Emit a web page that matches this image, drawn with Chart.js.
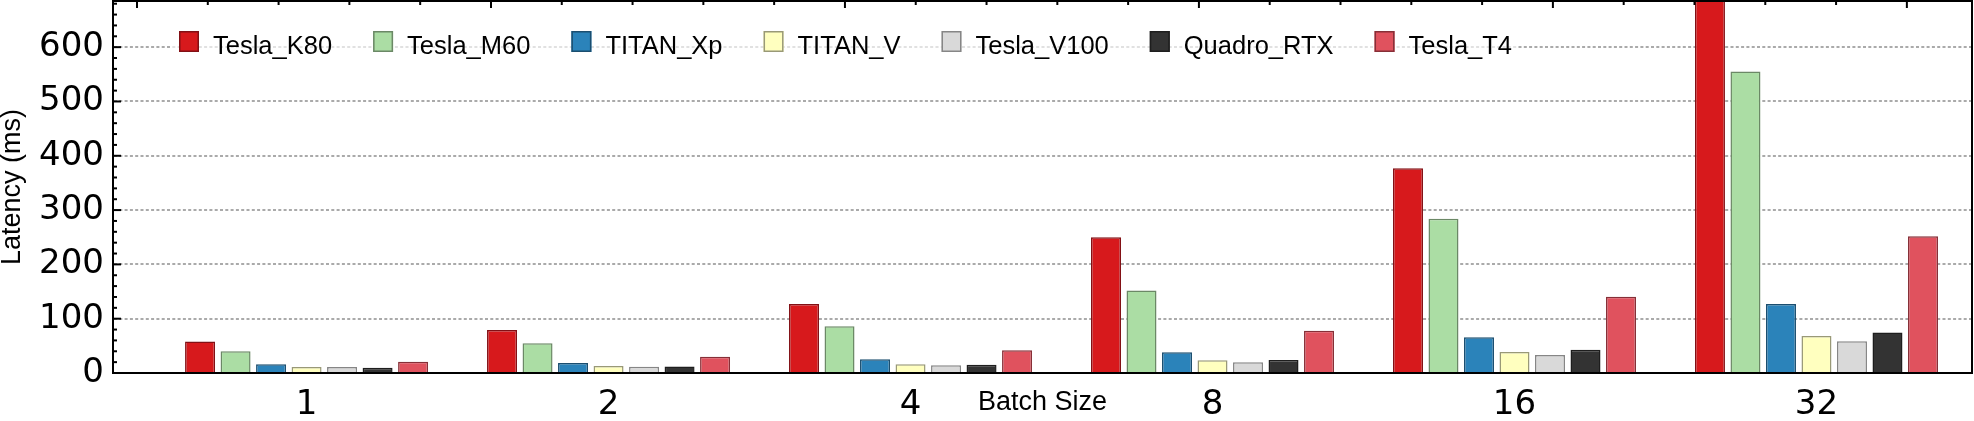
<!DOCTYPE html>
<html>
<head>
<meta charset="utf-8">
<script src="https://cdn.jsdelivr.net/npm/chart.js@4/dist/chart.umd.min.js"></script>
<style>
  html, body { margin: 0; padding: 0; background: #fff; overflow: hidden; }
  #wrap { width: 1974px; height: 421px; }
</style>
</head>
<body>
<div id="wrap"><canvas id="latency"></canvas></div>
<script>
// batch sizes on the x axis
const batchSizes = ['1', '2', '4', '8', '16', '32'];

// latency (ms) per GPU
const teslaK80  = [58, 79, 127, 250, 377, 740];
const teslaM60  = [40, 55, 86, 152, 284, 555];
const titanXp   = [16, 18.5, 25.5, 38, 66, 127];
const titanV    = [11, 13, 16, 23.5, 38.5, 68];
const teslaV100 = [11, 11.5, 14.5, 20, 33, 58.5];
const quadroRTX = [9.5, 12, 15, 24, 43, 74.5];
const teslaT4   = [20.5, 30, 42, 78, 140.5, 252];

const yTicks = [0, 100, 200, 300, 400, 500, 600];

const series = [
    {label: 'Tesla_K80',  values: teslaK80,  fill: '#d7191c', edge: '#821015'},
    {label: 'Tesla_M60',  values: teslaM60,  fill: '#abdda4', edge: '#6b8866'},
    {label: 'TITAN_Xp',   values: titanXp,   fill: '#2b83ba', edge: '#1b4e6f'},
    {label: 'TITAN_V',    values: titanV,    fill: '#ffffbf', edge: '#999977'},
    {label: 'Tesla_V100', values: teslaV100, fill: '#d9d9d9', edge: '#868686'},
    {label: 'Quadro_RTX', values: quadroRTX, fill: '#333333', edge: '#1e1e1e'},
    {label: 'Tesla_T4',   values: teslaT4,   fill: '#e0525e', edge: '#862f37'}
];

const tickFont = {family: '"DejaVu Sans", sans-serif', size: 34};
const textFont = '"Liberation Sans", Arial, sans-serif';

// legend drawn inside the plot, plus the mirrored frame ticks
const frame = {
    id: 'frame',
    afterDraw(chart) {
        const ctx = chart.ctx;
        const area = chart.chartArea;
        const y = chart.scales.y;
        const top = chart.scales.xTop;

        ctx.save();
        // legend
        ctx.font = '25.5px ' + textFont;
        ctx.textBaseline = 'alphabetic';
        let x = area.left + 66;
        const boxTop = area.top + 30;
        const widths = series.map(s => ctx.measureText(s.label).width);
        const total = widths.reduce((a, w) => a + w + 34 + 41, 0) - 41;
        ctx.fillStyle = 'rgba(255,255,255,0.65)';
        ctx.fillRect(x - 8, boxTop - 6, total + 14, 34);
        series.forEach((s, i) => {
            ctx.fillStyle = s.fill;
            ctx.strokeStyle = s.edge;
            ctx.lineWidth = 1.5;
            ctx.fillRect(x, boxTop, 20, 21);
            ctx.strokeRect(x + 0.75, boxTop + 0.75, 18.5, 19.5);
            ctx.fillStyle = '#000';
            ctx.fillText(s.label, x + 34, boxTop + 23);
            x += 34 + widths[i] + 41;
        });

        // top and right frame
        ctx.strokeStyle = '#000';
        ctx.lineWidth = 2;
        ctx.beginPath();
        ctx.moveTo(area.left, area.top);
        ctx.lineTo(area.right, area.top);
        ctx.lineTo(area.right, area.bottom);
        ctx.stroke();

        // inward ticks on the left
        for (let v = 0; v <= y.max; v += 20) {
            const py = y.getPixelForValue(v);
            const len = v % 100 === 0 ? 8 : 4;
            ctx.beginPath();
            ctx.moveTo(area.left, py);
            ctx.lineTo(area.left + len, py);
            ctx.stroke();
        }
        // inward ticks on the top
        for (let u = 0; u <= top.max; u += 1) {
            const px = top.getPixelForValue(u);
            const len = u % 5 === 0 ? 7 : 4;
            ctx.beginPath();
            ctx.moveTo(px, area.top);
            ctx.lineTo(px, area.top + len);
            ctx.stroke();
        }
        ctx.restore();
    }
};

const ctx = document.getElementById('latency').getContext('2d');
new Chart(ctx, {
    type: 'bar',
    data: {
        datasets: series.map(s => ({
            label: s.label,
            data: s.values.map((v, i) => ({x: i, y: v})),
            backgroundColor: s.fill,
            borderColor: s.edge,
            borderWidth: 1.5
        }))
    },
    options: {
        responsive: true,
        maintainAspectRatio: false,
        animation: false,
        layout: {padding: {top: 1, right: 2, left: 0, bottom: 0}},
        datasets: {
            bar: {categoryPercentage: 0.823, barPercentage: 0.845}
        },
        plugins: {
            legend: {display: false},
            tooltip: {enabled: false}
        },
        scales: {
            x: {
                type: 'linear',
                offset: false,
                min: -0.641,
                max: 5.515,
                afterBuildTicks: s => { s.ticks = batchSizes.map((b, i) => ({value: i})); },
                afterFit: s => { s.height = 48; s.paddingLeft = 0; s.paddingRight = 0; },
                ticks: {
                    callback: v => batchSizes[v],
                    font: tickFont,
                    color: '#000',
                    padding: 12,
                    maxRotation: 0,
                    autoSkip: false
                },
                grid: {display: false, drawTicks: false, offset: false},
                border: {display: true, color: '#000', width: 2},
                title: {
                    display: true,
                    text: 'Batch Size',
                    color: '#000',
                    font: {family: textFont, size: 27, lineHeight: 1.2},
                    padding: {top: 0, bottom: 2}
                }
            },
            xTop: {
                type: 'linear',
                axis: 'x',
                position: 'top',
                offset: false,
                min: -0.339,
                max: 25.92,
                afterFit: s => { s.height = 0; s.paddingLeft = 0; s.paddingRight = 0; },
                ticks: {display: false},
                grid: {display: false, drawTicks: false},
                border: {display: false}
            },
            y: {
                min: 0,
                max: 685,
                afterBuildTicks: s => { s.ticks = yTicks.map(v => ({value: v})); },
                afterFit: s => { s.width = 113; s.paddingTop = 0; s.paddingBottom = 0; },
                ticks: {font: tickFont, color: '#000', padding: 9},
                grid: {color: '#aaaaaa', lineWidth: 2, drawTicks: false},
                border: {display: true, color: '#000', width: 2, dash: [3, 2.3]},
                title: {
                    display: true,
                    text: 'Latency (ms)',
                    color: '#000',
                    font: {family: textFont, size: 27, lineHeight: 1},
                    padding: {top: -1, bottom: 0}
                }
            }
        }
    },
    plugins: [frame]
});
</script>
</body>
</html>
